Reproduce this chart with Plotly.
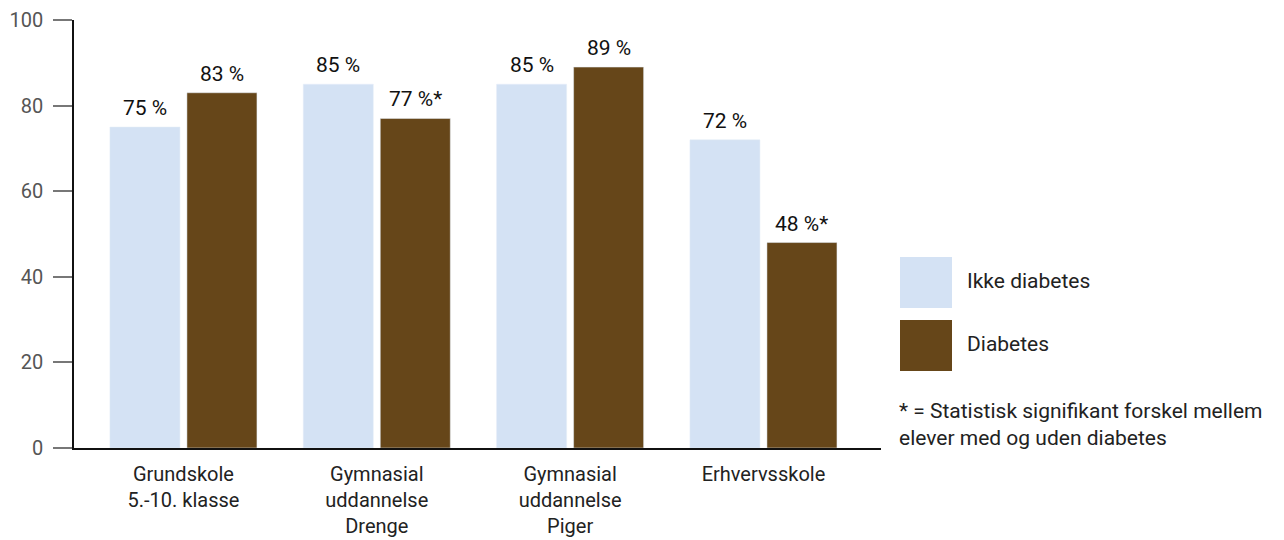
import plotly.graph_objects as go

categories = ["Grundskole<br>5.-10. klasse", "Gymnasial<br>uddannelse<br>Drenge",
              "Gymnasial<br>uddannelse<br>Piger", "Erhvervsskole"]
ikke_diabetes = [75, 85, 85, 72]
diabetes = [83, 77, 89, 48]
diabetes_sig = ["", "*", "", "*"]
y_ticks = [0, 20, 40, 60, 80, 100]

LIGHT = "#D4E2F4"
DARK = "#664619"
FONT = "Roboto"
FS = 21

xpos = list(range(len(categories)))
unit = 193.3
bw = 70 / unit
off_light = -73.5 / unit
off_dark = 3.5 / unit

fig = go.Figure()
fig.add_trace(go.Bar(x=xpos, y=ikke_diabetes, name="Ikke diabetes", marker_color=LIGHT,
                     width=bw, offset=off_light))
fig.add_trace(go.Bar(x=xpos, y=diabetes, name="Diabetes", marker_color=DARK,
                     width=bw, offset=off_dark))

# value labels
for i, v in enumerate(ikke_diabetes):
    fig.add_annotation(x=xpos[i] + off_light + bw / 2, y=v, text=f"{v} %", showarrow=False,
                       yanchor="bottom", yshift=5, font=dict(size=FS, color="#111", family=FONT))
for i, (v, s) in enumerate(zip(diabetes, diabetes_sig)):
    fig.add_annotation(x=xpos[i] + off_dark + bw / 2, y=v, text=f"{v} %{s}", showarrow=False,
                       yanchor="bottom", yshift=5, font=dict(size=FS, color="#111", family=FONT))

fig.update_layout(
    width=1276, height=532,
    margin=dict(l=66, r=403, t=12, b=92),
    plot_bgcolor="white", paper_bgcolor="white",
    showlegend=False, barmode="overlay",
    font=dict(family=FONT, size=FS, color="#222"),
    xaxis=dict(range=[-0.566, 3.608], tickvals=xpos, ticktext=categories,
               showline=True, linecolor="#111", linewidth=1.5, ticks="",
               showgrid=False, zeroline=False, automargin=False, ticklabelstandoff=7,
               ticklabeloverflow="allow",
               tickfont=dict(size=20, color="#222")),
    yaxis=dict(range=[0, 100], tickvals=y_ticks, showline=True, linecolor="#111",
               linewidth=1.5, ticks="outside", ticklen=19, tickcolor="#777", tickwidth=1.5,
               showgrid=False, zeroline=False, automargin=False, ticklabelstandoff=6,
               ticklabeloverflow="allow",
               tickfont=dict(size=20, color="#555")),
)

# Custom legend (positions relative to plot area: left 74, top 18, 807x428 on screen)
leg = [("Ikke diabetes", LIGHT, 255), ("Diabetes", DARK, 318)]
for name, col, top in leg:
    fig.add_shape(type="rect", xref="paper", yref="paper",
                  x0=(900 - 74) / 807, x1=(952 - 74) / 807,
                  y0=(446 - (top + 51)) / 428, y1=(446 - top) / 428,
                  fillcolor=col, line_width=0)
    fig.add_annotation(xref="paper", yref="paper", x=(965 - 74) / 807,
                       y=(446 - (top + 24)) / 428, text=name, showarrow=False,
                       xanchor="left", yanchor="middle",
                       font=dict(size=FS, color="#222", family=FONT))
fig.add_annotation(xref="paper", yref="paper", x=(897 - 74) / 807, y=(446 - 422) / 428,
                   text="* = Statistisk signifikant forskel mellem<br>elever med og uden diabetes",
                   showarrow=False, xanchor="left", yanchor="middle", align="left",
                   font=dict(size=FS, color="#222", family=FONT))

fig.write_html("out.html")
